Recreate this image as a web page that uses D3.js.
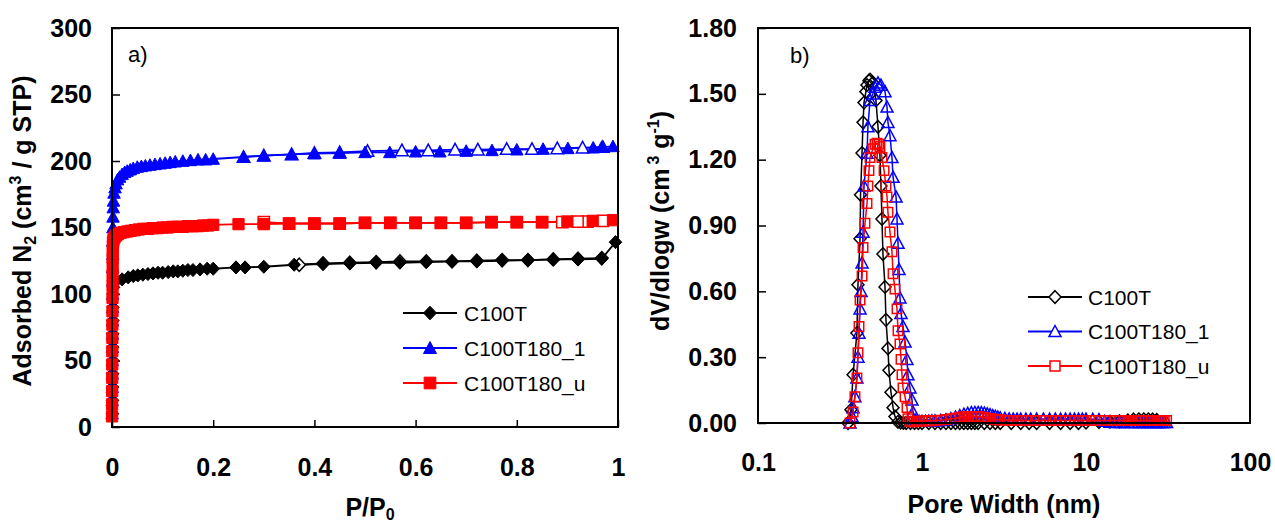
<!DOCTYPE html>
<html><head><meta charset="utf-8">
<script src="https://cdn.jsdelivr.net/npm/d3@7"></script>
<style>body{margin:0;background:#fff}svg{display:block}text{font-family:"Liberation Sans",Arial,Helvetica,sans-serif}</style>
</head><body><svg id="c" width="1275" height="525"></svg>
<script>
// ---------- DATA ----------
const seriesNames = ["C100T", "C100T180_1", "C100T180_u"];

// Isotherms: [P/P0, adsorbed volume]
const isoC100T_ads = [[0.0010,10],[0.0011,20],[0.0012,30],[0.0013,40],[0.0014,50],[0.0015,60],[0.0016,70],[0.0017,80],[0.0018,90],[0.002,100],[0.003,105],[0.006,109],[0.02,111],[0.032,112.5],[0.042,113.5],[0.051,114],[0.061,114.5],[0.071,115],[0.081,115.5],[0.091,116],[0.1,116],[0.111,116.5],[0.121,117],[0.13,117],[0.14,117.5],[0.15,118],[0.16,118],[0.174,118.5],[0.188,119],[0.2,119],[0.245,120],[0.263,120],[0.3,120.5],[0.36,122],[0.417,122.5],[0.47,123],[0.522,123.5],[0.569,123.5],[0.621,124],[0.672,124.5],[0.721,124.5],[0.771,125],[0.822,125.5],[0.872,126],[0.921,126],[0.968,126.5],[0.995,139]];
const isoC100T_des = [[0.968,127],[0.921,126.5],[0.872,126],[0.822,125.5],[0.771,125.5],[0.721,125],[0.672,124.5],[0.621,124.5],[0.569,124.5],[0.522,124],[0.47,123.5],[0.417,123],[0.37,122]];

const isoC100T180_1_ads = [[0.0003,10],[0.0004,20],[0.0005,30],[0.0006,40],[0.0007,50],[0.0008,60],[0.0009,70],[0.001,80],[0.0011,90],[0.0012,100],[0.0013,110],[0.0014,120],[0.0015,130],[0.0016,140],[0.0018,150],[0.002,158],[0.0025,165],[0.003,170],[0.004,176],[0.006,180],[0.008,183],[0.011,186],[0.015,188],[0.02,190],[0.025,191.5],[0.03,192.5],[0.036,193.5],[0.042,194.5],[0.05,195.5],[0.058,196],[0.066,196.5],[0.075,197],[0.085,197.5],[0.095,198],[0.105,198.5],[0.115,199],[0.125,199.5],[0.14,200],[0.155,200.5],[0.17,201],[0.185,201],[0.2,201.5],[0.26,203],[0.3,204],[0.355,205],[0.4,205.5],[0.45,206],[0.5,206.5],[0.549,206.5],[0.6,207],[0.648,207],[0.7,207.5],[0.751,208],[0.8,208.5],[0.852,209],[0.901,209.5],[0.951,210],[0.968,210.5],[0.99,211]];
const isoC100T180_1_des = [[0.97,210.5],[0.93,210],[0.88,209.5],[0.83,209],[0.78,209],[0.723,208.5],[0.678,208.5],[0.625,208],[0.573,208],[0.505,207.5],[0.45,206.5],[0.4,206],[0.355,205],[0.3,204],[0.26,203]];

const isoC100T180_u_ads = [[0.0001,8],[0.0002,17],[0.0003,27],[0.0004,37],[0.0005,47],[0.0006,57],[0.0007,67],[0.0008,77],[0.0009,87],[0.001,97],[0.0011,106],[0.0012,114],[0.0013,121],[0.0014,127],[0.0016,132],[0.0018,136],[0.002,139],[0.003,141],[0.005,142.5],[0.008,144],[0.012,145],[0.017,146],[0.023,146.5],[0.03,147],[0.037,147.5],[0.045,148],[0.053,148.5],[0.062,149],[0.071,149],[0.08,149.5],[0.09,149.5],[0.1,150],[0.11,150],[0.12,150.5],[0.13,150.5],[0.14,150.5],[0.15,151],[0.16,151],[0.17,151],[0.18,151.5],[0.19,151.5],[0.2,152],[0.25,152.5],[0.3,152.5],[0.35,153],[0.4,153],[0.45,153],[0.5,153.5],[0.55,153.5],[0.6,153.5],[0.65,153.5],[0.7,153.5],[0.75,154],[0.8,154],[0.85,154],[0.9,154.5],[0.95,155],[0.99,155.5]];
const isoC100T180_u_des = [[0.97,155],[0.94,154.5],[0.92,154.5],[0.89,154],[0.85,154],[0.8,154],[0.75,154],[0.7,153.5],[0.65,153.5],[0.6,153.5],[0.55,153.5],[0.5,153.5],[0.45,153],[0.4,153],[0.35,153],[0.3,154]];

// Pore size distributions: [pore width nm, dV/dlogw]
const psdC100T = [[0.354,0],[0.369,0.06],[0.380,0.22],[0.401,0.41],[0.407,0.63],[0.419,0.84],[0.422,1.04],[0.431,1.23],[0.437,1.37],[0.443,1.46],[0.455,1.51],[0.462,1.54],[0.475,1.56],[0.482,1.565],[0.502,1.55],[0.524,1.47],[0.539,1.35],[0.554,1.22],[0.562,1.08],[0.570,0.93],[0.578,0.77],[0.595,0.62],[0.603,0.47],[0.620,0.34],[0.629,0.24],[0.647,0.14],[0.666,0.07],[0.684,0.03],[0.714,0.005],[0.74,0.002],[0.77,0.001],[0.8,0],[0.85,0],[0.9,0],[0.95,0],[1.0,0],[1.1,0],[1.2,0],[1.3,0],[1.4,0],[1.5,0],[1.6,0],[1.7,0],[1.8,0],[1.9,0],[2.0,0],[2.1,0],[2.2,0],[2.4,0],[2.6,0],[2.8,0],[3.0,0],[3.5,0],[4.0,0],[4.5,0],[5.0,0],[6.0,0],[7.0,0],[8.0,0],[9.0,0],[10,0.002],[12,0.004],[14,0.006],[16,0.008],[18,0.012],[19.5,0.016],[21,0.017],[22.5,0.017],[24,0.017],[25.5,0.016],[27,0.014]];
const psdC100T180_1 = [[0.364,0],[0.374,0.03],[0.380,0.07],[0.390,0.12],[0.401,0.205],[0.407,0.30],[0.413,0.41],[0.419,0.52],[0.425,0.60],[0.431,0.73],[0.437,0.87],[0.443,1.08],[0.462,1.23],[0.468,1.35],[0.482,1.47],[0.502,1.50],[0.517,1.53],[0.539,1.55],[0.562,1.54],[0.595,1.51],[0.612,1.44],[0.620,1.37],[0.638,1.31],[0.656,1.21],[0.666,1.12],[0.695,1.03],[0.704,0.93],[0.714,0.82],[0.724,0.70],[0.734,0.57],[0.745,0.50],[0.766,0.44],[0.788,0.37],[0.810,0.29],[0.821,0.22],[0.845,0.16],[0.869,0.105],[0.881,0.05],[0.907,0.014],[0.93,0.008],[0.96,0.008],[1.0,0.008],[1.05,0.008],[1.1,0.009],[1.15,0.01],[1.2,0.01],[1.3,0.012],[1.4,0.015],[1.5,0.02],[1.6,0.027],[1.7,0.034],[1.8,0.04],[1.9,0.044],[2.0,0.047],[2.1,0.048],[2.2,0.048],[2.3,0.047],[2.4,0.045],[2.5,0.042],[2.6,0.038],[2.7,0.034],[2.8,0.03],[2.9,0.027],[3.0,0.024],[3.2,0.021],[3.4,0.019],[3.6,0.018],[3.8,0.018],[4.0,0.018],[4.3,0.018],[4.6,0.018],[5.0,0.018],[5.5,0.018],[6.0,0.018],[6.5,0.018],[7.0,0.018],[7.5,0.018],[8.0,0.018],[8.5,0.018],[9.0,0.018],[9.5,0.018],[10,0.018],[11,0.017],[12,0.016],[13,0.008],[14,0.004],[15,0.003],[16,0.003],[17,0.003],[18,0.003],[19,0.003],[20,0.003],[21,0.003],[22,0.003],[23,0.003],[24,0.003],[25,0.003],[26,0.003],[27,0.003],[28,0.003],[29,0.003],[30,0.003],[31,0.003]];
const psdC100T180_u = [[0.364,0],[0.380,0.05],[0.390,0.12],[0.401,0.205],[0.407,0.32],[0.413,0.44],[0.419,0.56],[0.431,0.67],[0.437,0.80],[0.449,0.91],[0.462,1.0],[0.468,1.08],[0.475,1.15],[0.482,1.21],[0.502,1.25],[0.517,1.27],[0.532,1.275],[0.546,1.27],[0.554,1.26],[0.570,1.21],[0.587,1.15],[0.603,1.08],[0.612,1.03],[0.620,0.96],[0.638,0.87],[0.656,0.78],[0.666,0.68],[0.684,0.61],[0.704,0.52],[0.714,0.42],[0.734,0.36],[0.745,0.29],[0.755,0.22],[0.766,0.16],[0.788,0.12],[0.810,0.07],[0.821,0.02],[0.845,0.008],[0.87,0.006],[0.9,0.006],[0.93,0.007],[0.96,0.008],[1.0,0.009],[1.05,0.01],[1.1,0.01],[1.15,0.01],[1.2,0.011],[1.3,0.013],[1.4,0.016],[1.5,0.019],[1.6,0.022],[1.7,0.026],[1.8,0.028],[1.9,0.03],[2.0,0.03],[2.1,0.03],[2.2,0.029],[2.3,0.027],[2.4,0.025],[2.5,0.022],[2.6,0.02],[2.7,0.018],[2.8,0.016],[2.9,0.015],[3.0,0.014],[3.2,0.013],[3.4,0.012],[3.6,0.011],[3.8,0.011],[4.0,0.011],[4.3,0.011],[4.6,0.011],[5.0,0.011],[5.5,0.011],[6.0,0.011],[6.5,0.011],[7.0,0.011],[7.5,0.011],[8.0,0.011],[8.5,0.011],[9.0,0.011],[9.5,0.011],[10,0.011],[11,0.011],[12,0.011],[13,0.011],[14,0.011],[15,0.011],[16,0.011],[17,0.011],[18,0.011],[19,0.011],[20,0.011],[21,0.011],[22,0.011],[23,0.011],[24,0.011],[25,0.011],[26,0.011],[27,0.011],[28,0.011],[29,0.011],[30,0.011],[31,0.011]];

// Ticks
const isoXTicks = [0, 0.2, 0.4, 0.6, 0.8, 1];
const isoXTickLabels = ["0", "0.2", "0.4", "0.6", "0.8", "1"];
const isoYTicks = [0, 50, 100, 150, 200, 250, 300];
const isoYTickLabels = ["0", "50", "100", "150", "200", "250", "300"];
const psdXTicks = [0.1, 1, 10, 100];
const psdXTickLabels = ["0.1", "1", "10", "100"];
const psdYTicks = [0, 0.3, 0.6, 0.9, 1.2, 1.5, 1.8];
const psdYTickLabels = ["0.00", "0.30", "0.60", "0.90", "1.20", "1.50", "1.80"];

// ---------- STYLE ----------
const colorOf = {"C100T":"#000000","C100T180_1":"#0000ff","C100T180_u":"#ff0000"};
const shapeOf = {"C100T":"diamond","C100T180_1":"triangle","C100T180_u":"square"};
const isoData = {"C100T":[isoC100T_ads,isoC100T_des],"C100T180_1":[isoC100T180_1_ads,isoC100T180_1_des],"C100T180_u":[isoC100T180_u_ads,isoC100T180_u_des]};
const psdData = {"C100T":psdC100T,"C100T180_1":psdC100T180_1,"C100T180_u":psdC100T180_u};

function markerPath(shape, s){
  const h = s/2;
  if (shape==="diamond") return `M0,${-h*1.05}L${h},0L0,${h*1.05}L${-h},0Z`;
  if (shape==="triangle") return `M0,${-h}L${h},${h*0.85}L${-h},${h*0.85}Z`;
  const q = h*0.9;
  return `M${-q},${-q}H${q}V${q}H${-q}Z`;
}

const svg = d3.select("#c");
svg.append("rect").attr("width",1275).attr("height",525).attr("fill","#fff");

function styleAxis(g, fs){
  g.select(".domain").remove();
  g.selectAll(".tick line").attr("stroke","#000").attr("stroke-width",1.5);
  g.selectAll(".tick text").attr("fill","#000").style("font-size",fs+"px").style("font-weight","bold");
}

// ---------- LEFT: isotherm ----------
const L = {x0:112, x1:618, y0:427, y1:28};
const xA = d3.scaleLinear().domain([0,1]).range([L.x0,L.x1]);
const yA = d3.scaleLinear().domain([0,300]).range([L.y0,L.y1]);

const gAy = svg.append("g").attr("transform",`translate(${L.x0},0)`)
  .call(d3.axisLeft(yA).tickValues(isoYTicks).tickFormat((d,i)=>isoYTickLabels[i]).tickSizeInner(-8).tickSizeOuter(0).tickPadding(20));
styleAxis(gAy, 25);
const gAx = svg.append("g").attr("transform",`translate(0,${L.y0})`)
  .call(d3.axisBottom(xA).tickValues(isoXTicks).tickFormat((d,i)=>isoXTickLabels[i]).tickSizeInner(-7).tickSizeOuter(0).tickPadding(31));
styleAxis(gAx, 25);

const lineA = d3.line().x(d=>xA(d[0])).y(d=>yA(d[1]));
seriesNames.forEach(n=>{
  const [ads, des] = isoData[n];
  const c = colorOf[n];
  const g = svg.append("g");
  g.append("path").datum(des).attr("d",lineA).attr("fill","none").attr("stroke",c).attr("stroke-width",1.8);
  g.append("path").datum(ads).attr("d",lineA).attr("fill","none").attr("stroke",c).attr("stroke-width",1.8);
  g.selectAll(".d").data(des).join("path").attr("transform",d=>`translate(${xA(d[0])},${yA(d[1])})`)
    .attr("d",markerPath(shapeOf[n],12.5)).attr("fill","#fff").attr("stroke",c).attr("stroke-width",1.5);
  g.selectAll(".a").data(ads).join("path").attr("transform",d=>`translate(${xA(d[0])},${yA(d[1])})`)
    .attr("d",markerPath(shapeOf[n],12.5)).attr("fill",c).attr("stroke",c).attr("stroke-width",1);
});
svg.append("rect").attr("x",L.x0).attr("y",L.y1).attr("width",L.x1-L.x0).attr("height",L.y0-L.y1)
  .attr("fill","none").attr("stroke","#000").attr("stroke-width",2);

svg.append("text").attr("x",128).attr("y",62).style("font-size","22px").text("a)");

// legend left
seriesNames.forEach((n,i)=>{
  const y = 313 + i*35, c = colorOf[n];
  svg.append("line").attr("x1",403).attr("x2",457).attr("y1",y).attr("y2",y).attr("stroke",c).attr("stroke-width",1.8);
  svg.append("path").attr("transform",`translate(430,${y})`).attr("d",markerPath(shapeOf[n],13)).attr("fill",c).attr("stroke",c);
  svg.append("text").attr("x",464).attr("y",y).attr("dy","0.36em").style("font-size","21px").text(n);
});

// titles left
const tY = svg.append("text").attr("transform","translate(31,231) rotate(-90)").attr("text-anchor","middle")
  .style("font-size","25px").style("font-weight","bold");
tY.append("tspan").text("Adsorbed N");
tY.append("tspan").attr("dy",5).style("font-size","16px").text("2");
tY.append("tspan").attr("dy",-5).text(" (cm");
tY.append("tspan").attr("dy",-10).style("font-size","16px").text("3");
tY.append("tspan").attr("dy",10).text(" / g STP)");

const tX = svg.append("text").attr("x",370).attr("y",516).attr("text-anchor","middle").style("font-size","25px").style("font-weight","bold");
tX.append("tspan").text("P/P");
tX.append("tspan").attr("dy",4).style("font-size","16px").text("0");

// ---------- RIGHT: PSD ----------
const R = {x0:758, x1:1250, y0:423, y1:28};
const xB = d3.scaleLog().domain([0.1,100]).range([R.x0,R.x1]);
const yB = d3.scaleLinear().domain([0,1.8]).range([R.y0,R.y1]);

const gBy = svg.append("g").attr("transform",`translate(${R.x0},0)`)
  .call(d3.axisLeft(yB).tickValues(psdYTicks).tickFormat((d,i)=>psdYTickLabels[i]).tickSizeInner(-8).tickSizeOuter(0).tickPadding(21));
styleAxis(gBy, 25);
const gBx = svg.append("g").attr("transform",`translate(0,${R.y0})`)
  .call(d3.axisBottom(xB).tickValues(psdXTicks).tickFormat((d,i)=>psdXTickLabels[i]).tickSizeInner(0).tickSizeOuter(0).tickPadding(30));
styleAxis(gBx, 25);

const lineB = d3.line().x(d=>xB(d[0])).y(d=>yB(d[1]));
seriesNames.forEach(n=>{
  const data = psdData[n], c = colorOf[n];
  const g = svg.append("g");
  g.append("path").datum(data).attr("d",lineB).attr("fill","none").attr("stroke",c).attr("stroke-width",1.5);
  g.selectAll("path.m").data(data).join("path").attr("class","m").attr("transform",d=>`translate(${xB(d[0])},${yB(d[1])})`)
    .attr("d",markerPath(shapeOf[n], n==="C100T180_u"?10.5:12)).attr("fill","none").attr("stroke",c).attr("stroke-width",1.5);
});
svg.append("rect").attr("x",R.x0).attr("y",R.y1).attr("width",R.x1-R.x0).attr("height",R.y0-R.y1)
  .attr("fill","none").attr("stroke","#000").attr("stroke-width",2);

svg.append("text").attr("x",790).attr("y",63).style("font-size","22px").text("b)");

seriesNames.forEach((n,i)=>{
  const y = 297 + i*34.5, c = colorOf[n];
  svg.append("line").attr("x1",1028).attr("x2",1082).attr("y1",y).attr("y2",y).attr("stroke",c).attr("stroke-width",1.8);
  svg.append("path").attr("transform",`translate(1055,${y})`).attr("d",markerPath(shapeOf[n], n==="C100T180_u"?11:12)).attr("fill","#fff").attr("stroke",c).attr("stroke-width",1.5);
  svg.append("text").attr("x",1088).attr("y",y).attr("dy","0.36em").style("font-size","21px").text(n);
});

const tY2 = svg.append("text").attr("transform","translate(669,221) rotate(-90)").attr("text-anchor","middle")
  .style("font-size","25px").style("font-weight","bold");
tY2.append("tspan").text("dV/dlogw (cm");
tY2.append("tspan").attr("dy",-10).attr("dx",4).style("font-size","16px").text("3");
tY2.append("tspan").attr("dy",10).text(" g");
tY2.append("tspan").attr("dy",-10).style("font-size","16px").text("-1");
tY2.append("tspan").attr("dy",10).text(")");

svg.append("text").attr("x",1004).attr("y",513).attr("text-anchor","middle").style("font-size","25px").style("font-weight","bold").text("Pore Width (nm)");
</script></body></html>
